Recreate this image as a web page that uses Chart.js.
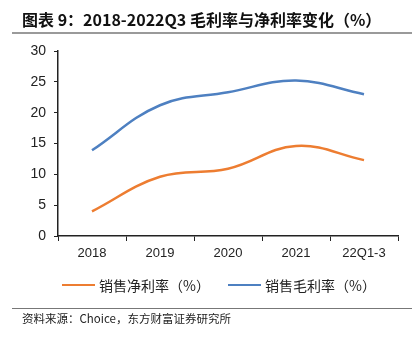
<!DOCTYPE html>
<html>
<head>
<meta charset="utf-8">
<script src="https://cdn.jsdelivr.net/npm/chart.js@4.4.0/dist/chart.umd.min.js"></script>
<style>
  html, body { margin: 0; padding: 0; background: #fff; }
  #wrap { position: relative; width: 418px; height: 340px; overflow: hidden; }
  #title { position: absolute; left: 22px; top: 9px; font-family: "Noto Sans CJK SC", sans-serif; font-weight: bold; font-size: 16px; color: #111; white-space: nowrap; line-height: 20px; }
  #rule1 { position: absolute; left: 12px; width: 400px; top: 32px; height: 2px; background: #9a9a9a; }
  #rule2 { position: absolute; left: 12px; width: 400px; top: 308px; height: 1px; background: #777; }
  #source { position: absolute; left: 22px; top: 310px; font-family: "Noto Sans CJK SC", sans-serif; font-size: 11.5px; color: #222; white-space: nowrap; line-height: 16px; }
  canvas { position: absolute; left: 0; top: 0; }
  .lg { position: absolute; top: 276px; height: 18px; display: flex; align-items: center; font-family: "Noto Sans CJK SC", sans-serif; font-size: 14px; color: #222; white-space: nowrap; }
  .lg i { display: inline-block; width: 33px; height: 2.5px; margin-right: 4px; }
</style>
</head>
<body>
<div id="wrap">
  <canvas id="c" width="418" height="340"></canvas>
  <div id="title">图表 9：2018-2022Q3 毛利率与净利率变化（%）</div>
  <div id="rule1"></div>
  <div id="rule2"></div>
  <div id="source">资料来源：Choice，东方财富证券研究所</div>
</div>
<script>
const categories = ["2018", "2019", "2020", "2021", "22Q1-3"];
const netMargin = [4.0, 9.6, 10.9, 14.6, 12.3];
const grossMargin = [13.9, 21.2, 23.3, 25.2, 23.0];
const seriesNames = ["销售净利率（%）", "销售毛利率（%）"];
const yTicks = [0, 5, 10, 15, 20, 25, 30];

const ORANGE = "#ED7D31";
const BLUE = "#4E80C1";

const chart = new Chart(document.getElementById("c"), {
  type: "line",
  data: {
    labels: categories,
    datasets: [
      { label: seriesNames[0], data: netMargin, borderColor: ORANGE, backgroundColor: ORANGE, borderWidth: 2.5, pointRadius: 0, tension: 0.4, fill: false },
      { label: seriesNames[1], data: grossMargin, borderColor: BLUE, backgroundColor: BLUE, borderWidth: 2.5, pointRadius: 0, tension: 0.4, fill: false }
    ]
  },
  options: {
    responsive: false,
    animation: false,
    layout: { padding: { top: 51, left: 0, right: 20, bottom: 72 } },
    plugins: {
      title: { display: false },
      tooltip: { enabled: false },
      legend: { display: false }
    },
    scales: {
      x: {
        type: "category",
        offset: true,
        afterFit: (s) => { s.height = 32; },
        grid: { display: true, drawOnChartArea: false, offset: true, drawTicks: true, tickLength: 5, color: "#222", lineWidth: 1 },
        border: { display: true, color: "#222", width: 1.5 },
        ticks: { color: "#222", padding: 5, font: { family: "'Liberation Sans', Arial, sans-serif", size: 13 }, maxRotation: 0 }
      },
      y: {
        min: 0, max: 30,
        afterFit: (s) => { s.width = 58; },
        afterBuildTicks: (s) => { s.ticks = yTicks.map(v => ({ value: v })); },
        grid: { display: true, drawOnChartArea: false, drawTicks: true, tickLength: 4, color: "#222", lineWidth: 1 },
        border: { display: true, color: "#222", width: 1.5 },
        ticks: { color: "#222", padding: 8, font: { family: "'Liberation Sans', Arial, sans-serif", size: 14 } }
      }
    }
  }
});

// HTML legend built from the chart's datasets
const legendLefts = [62, 228];
chart.data.datasets.forEach((ds, i) => {
  const d = document.createElement("div");
  d.className = "lg";
  d.style.left = legendLefts[i] + "px";
  const sw = document.createElement("i");
  sw.style.background = ds.borderColor;
  d.appendChild(sw);
  d.appendChild(document.createTextNode(ds.label));
  document.getElementById("wrap").appendChild(d);
});
</script>
</body>
</html>
